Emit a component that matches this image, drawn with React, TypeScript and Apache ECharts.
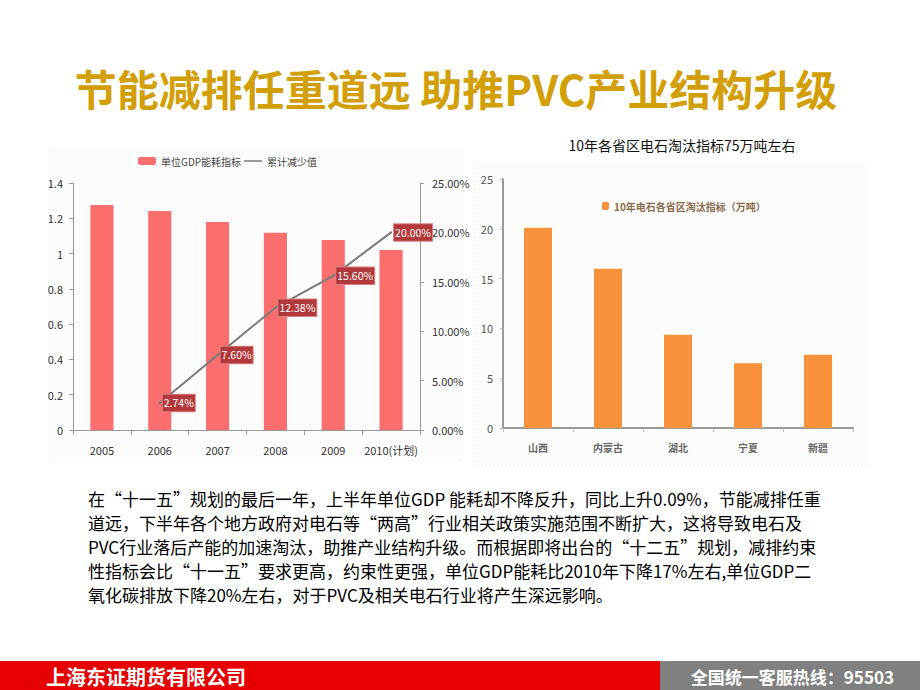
import React, { useEffect, useRef } from "react";
import * as echarts from "echarts";

const years = ["2005", "2006", "2007", "2008", "2009", "2010(计划)"];
const gdpEnergy = [1.276, 1.241, 1.179, 1.118, 1.077, 1.02];
const cumReduction = [null, 2.74, 7.6, 12.38, 15.6, 20.0];
const leftTicks = { min: 0, max: 1.4, interval: 0.2 };
const rightTicks = { min: 0, max: 25, interval: 5 };

const provinces = ["山西", "内蒙古", "湖北", "宁夏", "新疆"];
const eliminationTargets = [20.1, 16.0, 9.35, 6.5, 7.35];
const provinceTicks = { min: 0, max: 25, interval: 5 };

const titleText = "节能减排任重道远 助推PVC产业结构升级";
const rightTitle = "10年各省区电石淘汰指标75万吨左右";
const paragraphLines = [
  "在“十一五”规划的最后一年，上半年单位GDP 能耗却不降反升，同比上升0.09%，节能减排任重",
  "道远，下半年各个地方政府对电石等“两高”行业相关政策实施范围不断扩大，这将导致电石及",
  "PVC行业落后产能的加速淘汰，助推产业结构升级。而根据即将出台的“十二五”规划，减排约束",
  "性指标会比“十一五”要求更高，约束性更强，单位GDP能耗比2010年下降17%左右,单位GDP二",
  "氧化碳排放下降20%左右，对于PVC及相关电石行业将产生深远影响。",
];
const footerLeft = "上海东证期货有限公司";
const footerRight = "全国统一客服热线：95503";

const FONT = "'Noto Sans CJK SC', 'Liberation Sans', sans-serif";

export default function App() {
  const ref = useRef<HTMLDivElement>(null);
  useEffect(() => {
    if (!ref.current) return;
    const chart = echarts.init(ref.current, null, { renderer: "svg" });
    const graphics: any[] = [
      {
        type: "rect",
        shape: { x: 50, y: 150, width: 412, height: 310 },
        style: { fill: "#fdfcfd", stroke: "#e4e0e6", lineWidth: 1, lineDash: [1, 3] },
        z: -10,
      },
      {
        type: "rect",
        shape: { x: 475, y: 165, width: 392, height: 300 },
        style: { fill: "#fdfcfd", stroke: "#e4e0e6", lineWidth: 1, lineDash: [1, 3] },
        z: -10,
      },
      {
        type: "text",
        x: 456,
        y: 87,
        style: {
          text: titleText,
          fill: "#D29F08",
          font: `bold 42px ${FONT}`,
          textAlign: "center",
          textVerticalAlign: "middle",
        },
      },
      {
        type: "text",
        x: 682,
        y: 145,
        style: {
          text: rightTitle,
          fill: "#111",
          font: `14px ${FONT}`,
          textAlign: "center",
          textVerticalAlign: "middle",
        },
      },
      ...paragraphLines.map((t, i) => ({
        type: "text",
        x: 88,
        y: 498 + i * 24,
        style: {
          text: t,
          fill: "#000",
          font: `17px ${FONT}`,
          textAlign: "left",
          textVerticalAlign: "middle",
        },
      })),
      {
        type: "rect",
        shape: { x: 0, y: 661, width: 660, height: 29 },
        style: { fill: "#E60000" },
      },
      {
        type: "rect",
        shape: { x: 660, y: 661, width: 260, height: 29 },
        style: { fill: "#808080" },
      },
      {
        type: "text",
        x: 46,
        y: 676,
        style: {
          text: footerLeft,
          fill: "#fff",
          font: `bold 20px ${FONT}`,
          textAlign: "left",
          textVerticalAlign: "middle",
        },
      },
      {
        type: "text",
        x: 894,
        y: 676,
        style: {
          text: footerRight,
          fill: "#fff",
          font: `bold 17px ${FONT}`,
          textAlign: "right",
          textVerticalAlign: "middle",
        },
      },
    ];

    chart.setOption({
      animation: false,
      textStyle: { fontFamily: FONT },
      graphic: graphics,
      legend: [
        {
          left: 133,
          top: 151,
          itemWidth: 18,
          itemHeight: 8,
          itemGap: 3,
          textStyle: { fontSize: 10, color: "#444" },
          data: [{ name: "单位GDP能耗指标" }, { name: "累计减少值", icon: "path://M0,0 L18,0 L18,1.5 L0,1.5 Z" }],
        },
        {
          left: 597,
          top: 196,
          itemWidth: 7,
          itemHeight: 8,
          textStyle: { fontSize: 10, color: "#8a6a4a", fontWeight: "bold" },
          data: [{ name: "10年电石各省区淘汰指标（万吨）" }],
        },
      ],
      grid: [
        { left: 73, top: 183, width: 347, height: 247 },
        { left: 503, top: 179, width: 350, height: 249 },
      ],
      xAxis: [
        {
          type: "category",
          gridIndex: 0,
          data: years,
          axisLine: { lineStyle: { color: "#999" } },
          axisTick: { show: true, length: 5, lineStyle: { color: "#999" } },
          axisLabel: { color: "#333", fontSize: 11, margin: 14, interval: 0 },
        },
        {
          type: "category",
          gridIndex: 1,
          data: provinces,
          axisLine: { lineStyle: { color: "#999", width: 2 } },
          axisTick: { show: true, length: 4, lineStyle: { color: "#bbb" } },
          axisLabel: { color: "#666", fontSize: 10, fontWeight: "bold", margin: 14, interval: 0 },
        },
      ],
      yAxis: [
        {
          type: "value",
          gridIndex: 0,
          ...leftTicks,
          axisLine: { show: true, lineStyle: { color: "#999" } },
          axisTick: { show: true, length: 4, lineStyle: { color: "#999" } },
          splitLine: { show: false },
          axisLabel: { color: "#333", fontSize: 11, margin: 10 },
        },
        {
          type: "value",
          gridIndex: 0,
          position: "right",
          ...rightTicks,
          axisLine: { show: true, lineStyle: { color: "#999" } },
          axisTick: { show: true, length: 4, lineStyle: { color: "#999" } },
          splitLine: { show: false },
          axisLabel: {
            color: "#333",
            fontSize: 11,
            margin: 12,
            formatter: (v: number) => v.toFixed(2) + "%",
          },
        },
        {
          type: "value",
          gridIndex: 1,
          ...provinceTicks,
          axisLine: { show: true, lineStyle: { color: "#999", width: 2 } },
          axisTick: { show: true, length: 3, lineStyle: { color: "#bbb" } },
          splitLine: { show: false },
          axisLabel: { color: "#555", fontSize: 11, margin: 10 },
        },
      ],
      series: [
        {
          name: "单位GDP能耗指标",
          type: "bar",
          xAxisIndex: 0,
          yAxisIndex: 0,
          data: gdpEnergy,
          barWidth: "40%",
          itemStyle: { color: "#FA6E6E" },
        },
        {
          name: "累计减少值",
          type: "line",
          xAxisIndex: 0,
          yAxisIndex: 1,
          data: cumReduction,
          symbol: "circle",
          symbolSize: 2,
          lineStyle: { color: "#7A7A7A", width: 2 },
          itemStyle: { color: "#7A7A7A" },
          label: {
            show: true,
            position: "right",
            distance: 2,
            color: "#fff",
            fontSize: 10.5,
            backgroundColor: "#B2393B",
            borderColor: "#D98080",
            borderWidth: 1,
            padding: [3, 1, 3, 1],
            formatter: (p: any) => Number(p.value).toFixed(2) + "%",
          },
        },
        {
          name: "10年电石各省区淘汰指标（万吨）",
          type: "bar",
          xAxisIndex: 1,
          yAxisIndex: 2,
          data: eliminationTargets,
          barWidth: "40%",
          itemStyle: { color: "#F7923B" },
        },
      ],
    });
    return () => chart.dispose();
  }, []);
  return (
    <div
      ref={ref}
      style={{ position: "fixed", left: 0, top: 0, width: 920, height: 690, background: "#fff" }}
    />
  );
}
